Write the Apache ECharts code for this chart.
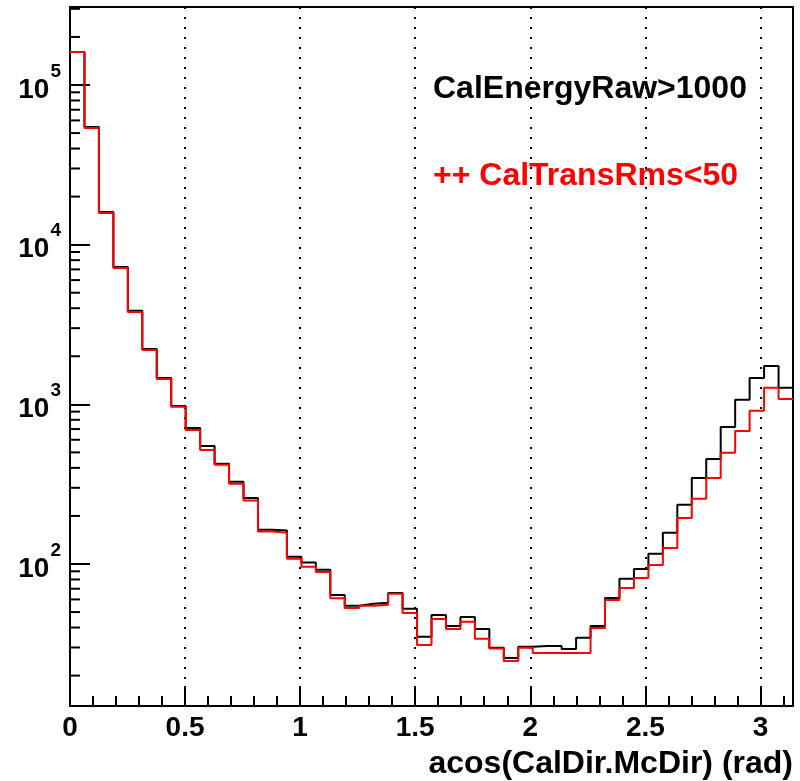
<!DOCTYPE html>
<html>
<head>
<meta charset="utf-8">
<script src="https://cdn.jsdelivr.net/npm/echarts@6/dist/echarts.min.js"></script>
<style>
html,body{margin:0;padding:0;background:#fff;}
#chart{width:800px;height:781px;}
</style>
</head>
<body>
<div id="chart"></div>
<script>
// ---- data ----
var nBins = 50;
var xMin = 0;
var xMax = Math.PI;
var blackCounts = [161000, 54500, 16000, 7250, 3850, 2220, 1460, 975, 711, 549,
  424, 327, 259, 164, 162, 111, 102, 92, 64, 54.7,
  56.3, 57.1, 65.9, 52.4, 35, 48, 40.9, 46.6, 39.2, 29.9,
  25.8, 30.3, 30.7, 30.7, 29.4, 34.5, 40.9, 61.3, 80.7, 93.1,
  116, 157, 235, 346, 455, 722, 1067, 1462, 1738, 1268];
var redCounts = [161000, 53800, 15800, 7150, 3790, 2190, 1440, 964, 691, 518,
  418, 318, 250, 160, 157, 108, 96, 89, 61, 53.1,
  54.7, 55.5, 65, 49.4, 31.1, 45.3, 39.2, 43.4, 34, 29.6,
  24.7, 29.9, 27.7, 27.7, 27.7, 27.7, 39.8, 59.6, 70.8, 81.8,
  98.6, 126, 194, 256, 346, 497, 681, 910, 1268, 1081];
var yMin = 12.9;
var yMax = 308000;
var yMinorTicks = [20,30,40,50,60,70,80,90,
  200,300,400,500,600,700,800,900,
  2000,3000,4000,5000,6000,7000,8000,9000,
  20000,30000,40000,50000,60000,70000,80000,90000,
  200000,300000];
var xTitle = 'acos(CalDir.McDir) (rad)';
var text1 = 'CalEnergyRaw>1000';
var text2 = '++ CalTransRms<50';

// ---- build step data from bin edges ----
function stepData(counts) {
  var w = (xMax - xMin) / nBins;
  var out = [];
  for (var i = 0; i < counts.length; i++) out.push([xMin + i * w, counts[i]]);
  out.push([xMax, counts[counts.length - 1]]);
  return out;
}

var FONT = "'Liberation Sans', Arial, Helvetica, sans-serif";
var chart = echarts.init(document.getElementById('chart'));
chart.setOption({
  backgroundColor: '#fff',
  animation: false,
  grid: { left: 70, top: 7, right: 7, bottom: 75, show: true, borderColor: '#000', borderWidth: 2, backgroundColor: 'transparent' },
  xAxis: {
    type: 'value', min: xMin, max: xMax, interval: 0.5,
    axisLine: { lineStyle: { color: '#000', width: 2 } },
    axisTick: { inside: true, length: 20, lineStyle: { color: '#000', width: 2 } },
    minorTick: { show: true, splitNumber: 5, length: 10, lineStyle: { color: '#000', width: 2 } },
    splitLine: { show: true, lineStyle: { color: '#000', width: 2, type: [2, 8] } },
    axisLabel: { showMaxLabel: false, color: '#000', fontFamily: FONT, fontWeight: 'bold', fontSize: 28, margin: 8 },
    name: xTitle, nameLocation: 'end', nameGap: 0,
    nameTextStyle: { color: '#000', fontFamily: FONT, fontWeight: 'bold', fontSize: 32, align: 'right', verticalAlign: 'top', padding: [42, 0, 0, 0] }
  },
  yAxis: {
    type: 'log', min: yMin, max: yMax, logBase: 10,
    axisLine: { lineStyle: { color: '#000', width: 2 } },
    axisTick: { inside: true, length: 20, lineStyle: { color: '#000', width: 2 } },
    splitLine: { show: false },
    axisLabel: {
      showMinLabel: false, showMaxLabel: false, margin: 9, padding: [0, 0, 6, 0],
      formatter: function (v) { return '{b|10}{s|' + Math.round(Math.log10(v)) + '}'; },
      rich: {
        b: { fontFamily: FONT, fontWeight: 'bold', fontSize: 28, color: '#000', lineHeight: 44, verticalAlign: 'bottom', padding: [0, 0, 0, 0] },
        s: { fontFamily: FONT, fontWeight: 'bold', fontSize: 19, color: '#000', lineHeight: 19, verticalAlign: 'top', padding: [2, 0, 0, 1] }
      }
    }
  },
  graphic: [
    { type: 'text', left: 433, top: 73, style: { text: text1, font: 'bold 32px ' + FONT, fill: '#000' } },
    { type: 'text', left: 433, top: 160, style: { text: text2, font: 'bold 32px ' + FONT, fill: '#ff0000' } }
  ],
  series: [
    { type: 'line', step: 'end', data: stepData(blackCounts), showSymbol: false, lineStyle: { color: '#000', width: 2 }, z: 3 },
    { type: 'line', step: 'end', data: stepData(redCounts), showSymbol: false, lineStyle: { color: '#ff0000', width: 2 }, z: 4 },
    {
      type: 'custom', z: 5, silent: true, clip: false,
      data: yMinorTicks.map(function (v) { return [xMin, v]; }),
      renderItem: function (params, api) {
        var p = api.coord([api.value(0), api.value(1)]);
        return { type: 'line', shape: { x1: p[0], y1: p[1], x2: p[0] + 10, y2: p[1] }, style: { stroke: '#000', lineWidth: 2 } };
      }
    }
  ]
});
</script>
</body>
</html>
